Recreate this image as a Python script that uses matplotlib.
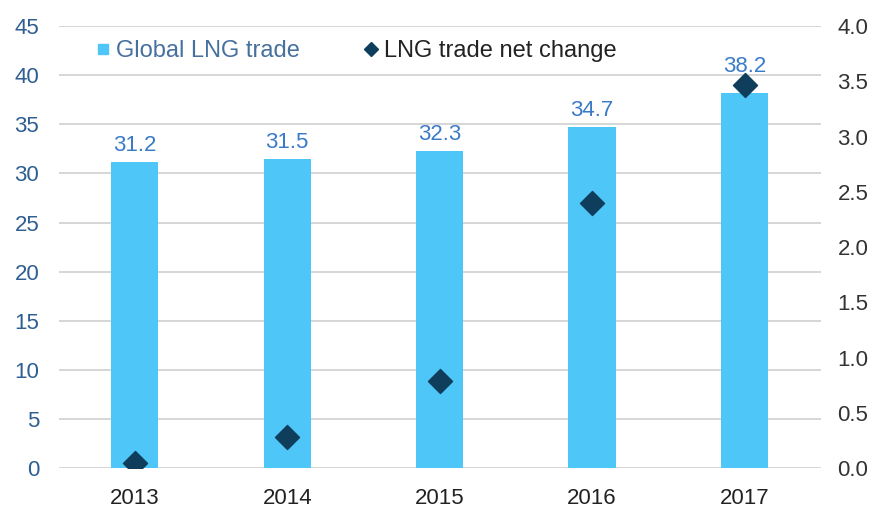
import matplotlib.pyplot as plt
import numpy as np
from matplotlib.lines import Line2D

years = ["2013", "2014", "2015", "2016", "2017"]
lng_trade = [31.2, 31.5, 32.3, 34.7, 38.2]
net_change = [0.05, 0.28, 0.79, 2.4, 3.47]

plt.rcParams["font.family"] = ["Liberation Sans", "DejaVu Sans"]

bar_color = "#4FC6F8"
dot_color = "#0F3D5C"
label_blue = "#3A7BC8"
axis_blue = "#2E5E92"

fig = plt.figure(figsize=(8.75, 5.11), dpi=100)
ax = fig.add_axes([0.067, 0.084, 0.871, 0.865])
ax2 = ax.twinx()

left_max, right_max = 45, 4.0
x = np.arange(len(years))
ax.bar(x, lng_trade, width=0.31, color=bar_color, zorder=2)
ax2.scatter(x, net_change, marker="D", s=150, color=dot_color, zorder=3)

# value labels sit above the bar, or above the diamond if it is higher
for xi, v, d in zip(x, lng_trade, net_change):
    d_left = d * left_max / right_max
    top = v if d_left + 0.5 < v else d_left + 0.2
    ax.text(xi, top + 0.6, f"{v:.1f}", ha="center", va="bottom",
            fontsize=16, color=label_blue, zorder=6)

ax.set_xlim(-0.5, len(years) - 0.5)
ax.set_ylim(0, left_max)
ax.set_yticks(range(0, 46, 5))
ax2.set_ylim(0, right_max)
rt = np.arange(0, 4.01, 0.5)
ax2.set_yticks(rt)
ax2.set_yticklabels([f"{t:.1f}" for t in rt])
ax.set_xticks(x)
ax.set_xticklabels(years)

ax.grid(axis="y", color="#CFCFCF", linewidth=1.2, zorder=0)
ax.set_axisbelow(True)
for a in (ax, ax2):
    for s in a.spines.values():
        s.set_visible(False)
    a.tick_params(length=0)
ax.tick_params(axis="y", labelsize=16, labelcolor=axis_blue, pad=14)
ax.tick_params(axis="x", labelsize=16, labelcolor="#222222", pad=14)
ax2.tick_params(axis="y", labelsize=16, labelcolor="#333333", pad=12)
ax2.patch.set_visible(False)

handles = [
    Line2D([], [], linestyle="none", marker="s", markersize=7, color=bar_color),
    Line2D([], [], linestyle="none", marker="D", markersize=7, color=dot_color),
]
leg = ax2.legend(handles, ["Global LNG trade", "LNG trade net change"],
                 loc="upper left", ncol=2, frameon=False, fontsize=17,
                 bbox_to_anchor=(0.037, 0.99), handlelength=0.6,
                 handletextpad=0.25, columnspacing=2.7, borderaxespad=0)
leg.get_texts()[0].set_color("#46709E")
leg.get_texts()[1].set_color("#222222")

fig.savefig("out.png", dpi=100)
